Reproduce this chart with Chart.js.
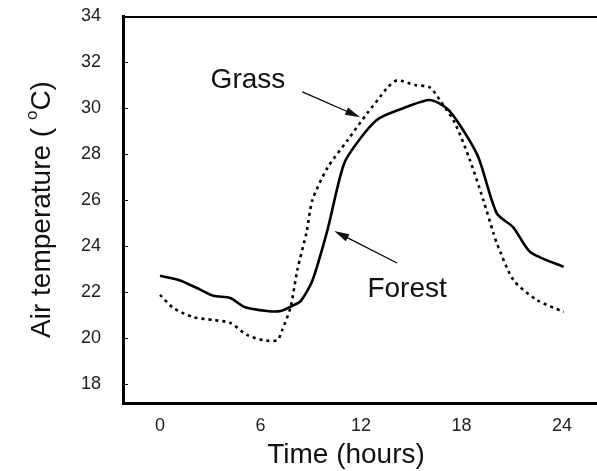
<!DOCTYPE html>
<html lang="en">
  <head>
    <meta charset="utf-8" />
    <title>Air temperature over grass and forest</title>
    <style>
      * {
        margin: 0;
        padding: 0;
      }
      body {
        background: #fff;
      }
      .chartBox {
        width: 597px;
        height: 471px;
      }
    </style>
  </head>
  <body>
    <div class="chartBox">
      <canvas id="myChart"></canvas>
    </div>
    <script src="https://cdn.jsdelivr.net/npm/chart.js"></script>
    <script>
      // data (hours, deg C)
      const forestHours = [0, 1.2, 2.4, 3.2, 4.2, 5, 6.4, 7.2, 7.9, 8.4, 9.1, 10.0, 11.0, 12.2, 13.1, 14.7, 16.1, 17.1, 17.9, 19.0, 20.1, 21.1, 22.1, 24.1];
      const forestTemp = [22.7, 22.5, 22.1, 21.83, 21.74, 21.36, 21.17, 21.17, 21.4, 21.6, 22.5, 24.7, 27.6, 28.9, 29.56, 30.04, 30.35, 30.0, 29.26, 27.87, 25.43, 24.8, 23.74, 23.09];

      const grassHours = [0, 0.8, 2, 3.2, 4.2, 5.2, 6.2, 7, 7.3, 7.8, 8.2, 8.75, 9.1, 10, 11.2, 12.4, 13, 13.6, 14.15, 15.2, 16.1, 16.7, 17.6, 18.5, 19.3, 19.9, 20.1, 21.1, 22.5, 24.1];
      const grassTemp = [21.87, 21.3, 20.9, 20.78, 20.65, 20.13, 19.9, 19.9, 20.35, 21.35, 22.96, 24.6, 26.0, 27.4, 28.6, 29.8, 30.35, 30.9, 31.2, 31.0, 30.9, 30.35, 29.35, 27.74, 26.0, 24.57, 24.13, 22.52, 21.65, 21.13];

      const xTicks = [0, 6, 12, 18, 24];
      const yTicks = [18, 20, 22, 24, 26, 28, 30, 32, 34];

      // labels with arrows, in data units: text position, arrow tail, arrow tip
      const notes = [
        { text: 'Grass', at: [5.25, 31.2], from: [8.5, 30.7], to: [11.95, 29.6] },
        { text: 'Forest', at: [14.75, 22.1], from: [14.15, 23.26], to: [10.4, 24.65] },
      ];

      const font = '"Liberation Sans", Arial, Helvetica, sans-serif';

      const toPoints = (xs, ys) => xs.map((h, i) => ({ x: h, y: ys[i] }));

      const overlay = {
        id: 'overlay',
        afterDraw(chart) {
          const { ctx, chartArea: a, scales } = chart;
          const x = scales.x;
          const y = scales.y;
          ctx.save();
          ctx.strokeStyle = '#000';
          ctx.fillStyle = '#111';

          // top frame line
          ctx.lineWidth = 2;
          ctx.beginPath();
          ctx.moveTo(a.left, a.top + 1);
          ctx.lineTo(a.right, a.top + 1);
          ctx.stroke();

          // small inner ticks on the y axis
          ctx.lineWidth = 1;
          yTicks.forEach((v) => {
            const py = Math.round(y.getPixelForValue(v)) + 0.5;
            ctx.beginPath();
            ctx.moveTo(a.left, py);
            ctx.lineTo(a.left + 5, py);
            ctx.stroke();
          });

          // notes and arrows
          ctx.font = '28px ' + font;
          ctx.textAlign = 'center';
          ctx.textBaseline = 'middle';
          notes.forEach((n) => {
            ctx.fillText(n.text, x.getPixelForValue(n.at[0]), y.getPixelForValue(n.at[1]));
            const x0 = x.getPixelForValue(n.from[0]);
            const y0 = y.getPixelForValue(n.from[1]);
            const x1 = x.getPixelForValue(n.to[0]);
            const y1 = y.getPixelForValue(n.to[1]);
            const ang = Math.atan2(y1 - y0, x1 - x0);
            ctx.lineWidth = 1.2;
            ctx.beginPath();
            ctx.moveTo(x0, y0);
            ctx.lineTo(x1 - 8 * Math.cos(ang), y1 - 8 * Math.sin(ang));
            ctx.stroke();
            ctx.beginPath();
            ctx.moveTo(x1, y1);
            ctx.lineTo(x1 - 15 * Math.cos(ang) + 4 * Math.sin(ang), y1 - 15 * Math.sin(ang) - 4 * Math.cos(ang));
            ctx.lineTo(x1 - 15 * Math.cos(ang) - 4 * Math.sin(ang), y1 - 15 * Math.sin(ang) + 4 * Math.cos(ang));
            ctx.closePath();
            ctx.fill();
          });

          // x axis title
          ctx.font = '28px ' + font;
          ctx.fillText('Time (hours)', (a.left + a.right) / 2 - 14, 455);

          // y axis title with superscript o
          ctx.translate(42, (a.top + a.bottom) / 2);
          ctx.rotate(-Math.PI / 2);
          const main = 'Air temperature ( ';
          const tail = 'C)';
          ctx.font = '28px ' + font;
          const w1 = ctx.measureText(main).width;
          const w3 = ctx.measureText(tail).width;
          ctx.font = '17px ' + font;
          const w2 = ctx.measureText('o').width;
          let px = -(w1 + w2 + w3) / 2;
          ctx.textAlign = 'left';
          ctx.font = '28px ' + font;
          ctx.fillText(main, px, 0);
          px += w1;
          ctx.font = '17px ' + font;
          ctx.fillText('o', px, -10);
          px += w2;
          ctx.font = '28px ' + font;
          ctx.fillText(tail, px, 0);
          ctx.restore();
        },
      };

      const data = {
        datasets: [
          {
            label: 'Forest',
            data: toPoints(forestHours, forestTemp),
            borderColor: '#000',
            borderWidth: 2.6,
            pointRadius: 0,
            tension: 0.25,
          },
          {
            label: 'Grass',
            data: toPoints(grassHours, grassTemp),
            borderColor: '#000',
            borderWidth: 2.6,
            borderDash: [3, 4],
            pointRadius: 0,
            tension: 0.25,
          },
        ],
      };

      const config = {
        type: 'line',
        data,
        options: {
          responsive: true,
          maintainAspectRatio: false,
          animation: false,
          layout: { padding: { top: 16, right: 0, bottom: 0, left: 0 } },
          plugins: {
            legend: { display: false },
            tooltip: { enabled: false },
          },
          scales: {
            x: {
              type: 'linear',
              min: -2.21,
              max: 26.09,
              afterBuildTicks: (s) => {
                s.ticks = xTicks.map((v) => ({ value: v }));
              },
              afterFit: (s) => {
                s.height = 68;
                s.paddingLeft = 0;
                s.paddingRight = 0;
              },
              grid: { display: false, drawTicks: false },
              border: { display: true, color: '#000', width: 3 },
              ticks: {
                padding: 12,
                color: '#222',
                font: { family: font, size: 18 },
                maxRotation: 0,
              },
            },
            y: {
              min: 17.17,
              max: 34,
              afterBuildTicks: (s) => {
                s.ticks = yTicks.map((v) => ({ value: v }));
              },
              afterFit: (s) => {
                s.width = 123;
                s.paddingTop = 0;
                s.paddingBottom = 0;
              },
              grid: { display: false, drawTicks: false },
              border: { display: true, color: '#000', width: 3 },
              ticks: {
                padding: 22,
                color: '#222',
                font: { family: font, size: 18 },
              },
            },
          },
        },
        plugins: [overlay],
      };

      const myChart = new Chart(document.getElementById('myChart'), config);
    </script>
  </body>
</html>
